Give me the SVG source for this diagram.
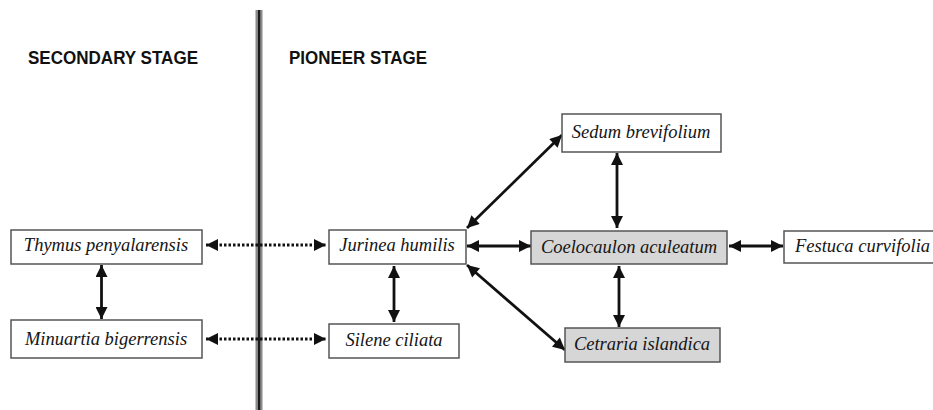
<svg xmlns="http://www.w3.org/2000/svg" width="933" height="410" viewBox="0 0 933 410">
<style>
.box{fill:#fff;stroke:#555;stroke-width:1.5}
.grey{fill:#d6d6d6}
.lbl{font-family:"Liberation Serif","Times New Roman",serif;font-style:italic;font-size:18.5px;fill:#151515;text-anchor:middle}
.title{font-family:"Liberation Sans",Arial,sans-serif;font-weight:bold;font-size:17.5px;fill:#111}
.solid{stroke:#111;stroke-width:2.8;fill:none;marker-start:url(#ah);marker-end:url(#ah)}
.dot{stroke:#111;stroke-width:3;stroke-dasharray:2.5 2;fill:none;marker-start:url(#ah);marker-end:url(#ah)}
</style>
<defs>
<marker id="ah" viewBox="0 0 10 10" refX="10" refY="5" markerUnits="userSpaceOnUse" markerWidth="14" markerHeight="12" orient="auto-start-reverse">
<path d="M0,0 L10,5 L0,10 z" fill="#111"/>
</marker>
</defs>
<rect width="933" height="410" fill="#fff"/>
<g id="divider">
<rect x="255.5" y="10" width="7" height="400" fill="#8a8a8a"/>
<rect x="258" y="10" width="2.2" height="400" fill="#1a1a1a"/>
</g>
<g id="titles">
<text class="title" x="28" y="64" textLength="170" lengthAdjust="spacingAndGlyphs">SECONDARY STAGE</text>
<text class="title" x="289" y="64" textLength="138" lengthAdjust="spacingAndGlyphs">PIONEER STAGE</text>
</g>
<g id="connectors">
<line class="dot" x1="206" y1="245" x2="326" y2="245"/>
<line class="dot" x1="206" y1="339" x2="326" y2="339"/>
<line class="solid" x1="101.5" y1="265" x2="101.5" y2="319"/>
<line class="solid" x1="394" y1="266" x2="394" y2="322"/>
<line class="solid" x1="467" y1="246" x2="531" y2="246"/>
<line class="solid" x1="729" y1="246" x2="783" y2="246"/>
<line class="solid" x1="617" y1="153" x2="617" y2="228"/>
<line class="solid" x1="619" y1="266" x2="619" y2="327"/>
<line class="solid" x1="467" y1="228" x2="562" y2="135"/>
<line class="solid" x1="467" y1="265" x2="565" y2="350"/>
</g>
<g id="thymus"><rect class="box" x="11" y="230" width="191" height="34"/><text class="lbl" x="106" y="251">Thymus penyalarensis</text></g>
<g id="minuartia"><rect class="box" x="11" y="320" width="191" height="38"/><text class="lbl" x="106" y="345">Minuartia bigerrensis</text></g>
<g id="jurinea"><rect class="box" x="329" y="230" width="137" height="34"/><text class="lbl" x="397" y="251">Jurinea humilis</text></g>
<g id="silene"><rect class="box" x="329" y="324" width="130" height="34"/><text class="lbl" x="394" y="346">Silene ciliata</text></g>
<g id="sedum"><rect class="box" x="562" y="114" width="159" height="38"/><text class="lbl" x="641" y="138">Sedum brevifolium</text></g>
<g id="coelocaulon"><rect class="box grey" x="531" y="231" width="196" height="33"/><text class="lbl" x="629" y="253">Coelocaulon aculeatum</text></g>
<g id="festuca"><rect class="box" x="784" y="231" width="160" height="32"/><text class="lbl" x="795" y="252" style="text-anchor:start">Festuca curvifolia</text></g>
<g id="cetraria"><rect class="box grey" x="565" y="328" width="155" height="34"/><text class="lbl" x="642" y="350">Cetraria islandica</text></g>
</svg>
